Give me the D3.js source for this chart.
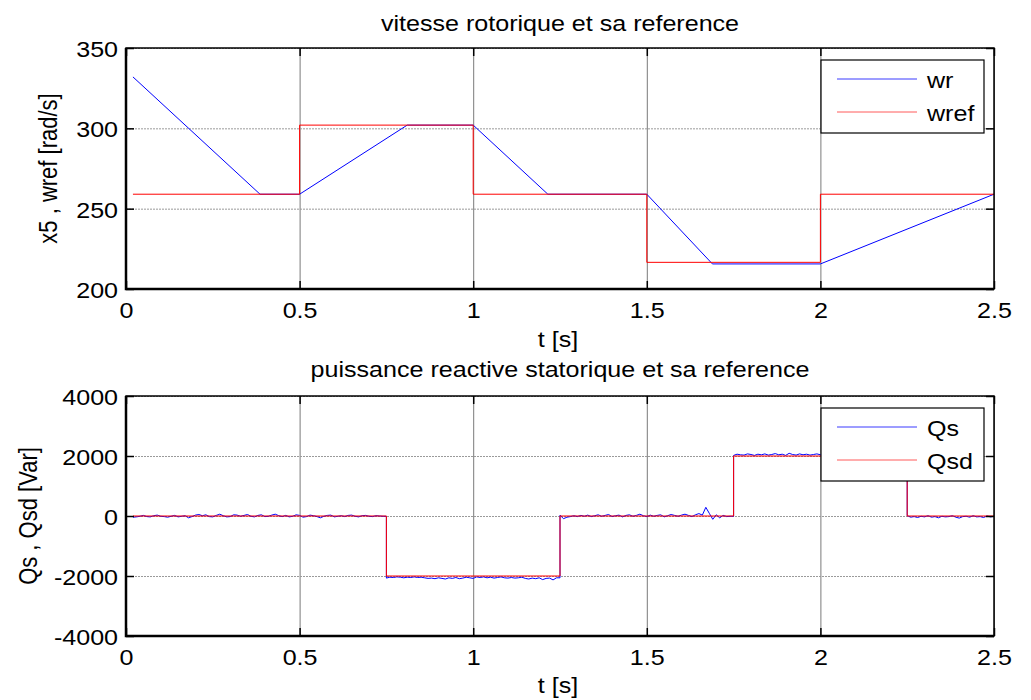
<!DOCTYPE html>
<html>
<head>
<meta charset="utf-8">
<script src="https://cdn.jsdelivr.net/npm/d3@7"></script>
<style>
  body { margin: 0; background: #fff; }
  text { font-family: "Liberation Sans", Arial, sans-serif; fill: #000; }
</style>
</head>
<body>
<script>
// ---- data ----
// speed plot
var xTicks = [0, 0.5, 1, 1.5, 2, 2.5];
var speedTicks = [200, 250, 300, 350];
var wrTime = [0.02, 0.386, 0.5, 0.81, 1.0, 1.215, 1.5, 1.689, 2.0, 2.5];
var wrValue = [332, 259, 259, 302, 302, 259, 259, 215.6, 215.6, 259];
var wrefTime = [0.02, 0.5, 1.0, 1.5, 2.0, 2.5];
var wrefValue = [259, 302, 259, 216.6, 259, 259];

// reactive power plot
var powerTicks = [-4000, -2000, 0, 2000, 4000];
var qsdTime = [0.02, 0.75, 1.25, 1.75, 2.25, 2.5];
var qsdValue = [0, -2000, 0, 2000, 0, 0];
// Qs samples every 0.01 s, one list per reference level
var qsStep = 0.01;
var qsStart = [0.02, 0.75, 1.25, 1.75, 2.25];
var qsSeg1 = [-40, -30, -10, 20, -20, -30, 10, 30, -10, -20, -40, -10, 20, -30, -10, 10, -60, -20, 30, 50,
  10, 40, -20, -30, 20, 60, 10, -30, -20, 40, 30, -10, 20, 50, -10, -30, 20, 40, -20, -10,
  30, 60, 10, -20, 20, -30, -10, 40, 20, -40, -20, 30, 10, -20, -60, -10, 20, 30, -30, -10,
  10, -20, 20, 30, -10, -30, 10, 20, -10, -20, 10, 0, -10];
var qsSeg2 = [-2070, -2040, -2050, -2030, -2040, -2060, -2040, -2050, -2030, -2050, -2040, -2060, -2080, -2070, -2090, -2060, -2080, -2100, -2060, -2080,
  -2050, -2090, -2070, -2040, -2060, -2080, -2030, -2050, -2030, -2060, -2040, -2070, -2050, -2030, -2060, -2070, -2050, -2070, -2060, -2040,
  -2080, -2100, -2070, -2090, -2060, -2120, -2080, -2070, -2130, -2060];
var qsSeg3 = [30, -90, -40, -20, 10, -20, 20, -10, 30, -20, 10, 40, -10, 20, 50, -20, 10, 30, -30, 20,
  40, -10, 20, 60, 10, -20, 30, -10, 20, 40, -30, 10, 50, 20, -10, 30, 60, 20, -20, 40,
  80, 30, 290, 90, -110, 40, -60, 20, -20, -10];
var qsSeg4 = [2020, 2060, 2040, 2030, 2070, 2050, 2020, 2060, 2040, 2070, 2030, 2050, 2080, 2040, 2060, 2020, 2090, 2050, 2030, 2070,
  2040, 2060, 2030, 2050, 2070, 2040, 2020, 2060, 2050, 2030, 2070, 2040, 2060, 2020, 2050, 2070, 2040, 2030, 2060, 2050,
  2030, 2060, 2040, 2020, 2050, 2060, 2030, 2040, 2050, 2020];
var qsSeg5 = [10, -40, -20, -50, -10, -30, 10, -40, -20, -60, -10, -30, -20, 10, -40, -70, -20, -10, -40, 10,
  -30, -20, -50, 0, -30, -10];

var W = 1031, H = 700;
var kx = 1.14;   // text in the picture is stretched sideways
var fontPx = 22;

var svg = d3.select("body").append("svg")
    .attr("width", W)
    .attr("height", H);

// put a text with the sideways stretch
function label(g, x, y, str, anchor, rot) {
  return g.append("text")
      .attr("transform", "translate(" + x + "," + y + ") scale(" + kx + ",1)" + (rot ? " rotate(" + rot + ")" : ""))
      .style("text-anchor", anchor || "start")
      .style("font-size", fontPx + "px")
      .text(str);
}

function drawPanel(p) {
  var x = d3.scaleLinear().domain([0, 2.5]).range([126, 994]);
  var y = d3.scaleLinear().domain(p.yDomain).range([p.bottom, p.top]);
  var g = svg.append("g");

  // grid
  g.append("g")
      .attr("transform", "translate(0," + p.bottom + ")")
      .call(d3.axisBottom(x).tickValues(xTicks).tickSize(-(p.bottom - p.top)).tickFormat(""))
      .call(function(a) {
        a.select(".domain").remove();
        a.selectAll("line").attr("stroke", "#7a7a7a").attr("stroke-width", 1);
      });
  g.append("g")
      .attr("transform", "translate(126,0)")
      .call(d3.axisLeft(y).tickValues(p.yTicks).tickSize(-(994 - 126)).tickFormat(""))
      .call(function(a) {
        a.select(".domain").remove();
        a.selectAll("line").attr("stroke", "#9a9a9a").attr("stroke-width", 1).attr("stroke-dasharray", "2,1");
      });

  // lines
  var line = d3.line().x(function(d) { return x(d[0]); }).y(function(d) { return y(d[1]); });
  var stepLine = d3.line().x(function(d) { return x(d[0]); }).y(function(d) { return y(d[1]); }).curve(d3.curveStepAfter);
  g.append("path").datum(p.measured)
      .attr("fill", "none").attr("stroke", "#0000ff").attr("stroke-width", 1)
      .attr("d", line);
  g.append("path").datum(p.reference)
      .attr("fill", "none").attr("stroke", "#ff0000").attr("stroke-width", 1)
      .attr("d", stepLine);

  // inner tick marks on all four sides
  function ticks(axis, tr) {
    g.append("g").attr("transform", tr)
        .call(axis.tickSizeInner(-8).tickSizeOuter(0).tickFormat(""))
        .call(function(a) {
          a.select(".domain").remove();
          a.selectAll("line").attr("stroke", "#000").attr("stroke-width", 1.5);
        });
  }
  ticks(d3.axisBottom(x).tickValues(xTicks), "translate(0," + p.bottom + ")");
  ticks(d3.axisTop(x).tickValues(xTicks), "translate(0," + p.top + ")");
  ticks(d3.axisLeft(y).tickValues(p.yTicks), "translate(126,0)");
  ticks(d3.axisRight(y).tickValues(p.yTicks), "translate(994,0)");

  // box
  g.append("rect")
      .attr("x", 126).attr("y", p.top)
      .attr("width", 994 - 126).attr("height", p.bottom - p.top)
      .attr("fill", "none").attr("stroke", "#000").attr("stroke-width", 1.5);
  g.append("path")
      .attr("d", "M126," + p.top + "V" + p.bottom + "H994")
      .attr("fill", "none").attr("stroke", "#000").attr("stroke-width", 2.5);

  // tick labels (plain hyphen for negatives, as in the picture)
  var plain = function(d) { return String(d); };
  g.append("g")
      .attr("transform", "translate(0," + p.bottom + ")")
      .call(d3.axisBottom(x).tickValues(xTicks).tickSize(0).tickPadding(13).tickFormat(plain))
      .call(function(a) {
        a.select(".domain").remove();
        a.selectAll("text").style("font-size", fontPx + "px").attr("fill", "#000")
            .attr("transform", "scale(" + kx + ",1)");
      });
  g.append("g")
      .attr("transform", "translate(126,0)")
      .call(d3.axisLeft(y).tickValues(p.yTicks).tickSize(0).tickPadding(7).tickFormat(plain))
      .call(function(a) {
        a.select(".domain").remove();
        a.selectAll("text").style("font-size", fontPx + "px").attr("fill", "#000")
            .attr("dy", "0.38em")
            .attr("transform", "scale(" + kx + ",1)");
      });

  // titles
  label(g, 560, p.titleY, p.title, "middle");
  label(g, 558, p.xLabelY, "t [s]", "middle");
  label(g, p.yLabelX, (p.top + p.bottom) / 2, p.yLabel, "middle", -90);

  // legend
  var L = p.legend;
  g.append("rect").attr("x", 821).attr("y", L.top).attr("width", 163).attr("height", 73)
      .attr("fill", "#fff").attr("stroke", "#000").attr("stroke-width", 1.2);
  [[p.names[0], "#3b3bff", L.top + 19], [p.names[1], "#ff5a5a", L.top + 52]].forEach(function(e) {
    g.append("line").attr("x1", 837).attr("x2", 917).attr("y1", e[2]).attr("y2", e[2])
        .attr("stroke", e[1]).attr("stroke-width", 1);
    label(g, 927, e[2] + 9, e[0], "start");
  });
}

// build series from the lists
var wrPts = d3.zip(wrTime, wrValue);
var wrefPts = d3.zip(wrefTime, wrefValue);
var qsdPts = d3.zip(qsdTime, qsdValue);
var qsPts = [];
[qsSeg1, qsSeg2, qsSeg3, qsSeg4, qsSeg5].forEach(function(seg, k) {
  // hold the last sample up to the switching instant so the jump is vertical
  if (k > 0) qsPts.push([qsStart[k], qsPts[qsPts.length - 1][1]]);
  seg.forEach(function(v, i) { qsPts.push([qsStart[k] + i * qsStep, v]); });
});

drawPanel({
  top: 48, bottom: 289, yDomain: [200, 350], yTicks: speedTicks,
  measured: wrPts, reference: wrefPts,
  title: "vitesse rotorique et sa reference", titleY: 31, xLabelY: 347,
  yLabel: "x5 , wref [rad/s]", yLabelX: 57,
  legend: { top: 60 }, names: ["wr", "wref"]
});
drawPanel({
  top: 396, bottom: 636, yDomain: [-4000, 4000], yTicks: powerTicks,
  measured: qsPts, reference: qsdPts,
  title: "puissance reactive statorique et sa reference", titleY: 377, xLabelY: 693,
  yLabel: "Qs , Qsd [Var]", yLabelX: 37,
  legend: { top: 408 }, names: ["Qs", "Qsd"]
});
</script>
</body>
</html>
